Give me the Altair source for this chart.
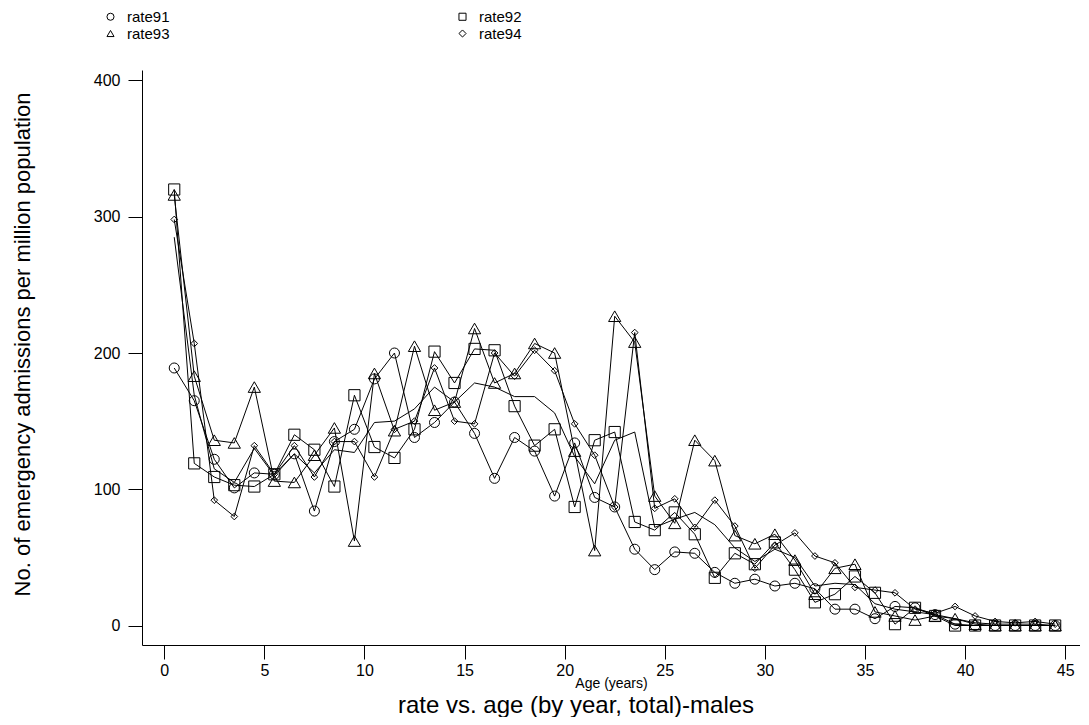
import altair as alt
import pandas as pd

ages = [0.5, 1.5, 2.5, 3.5, 4.5, 5.5, 6.5, 7.5, 8.5, 9.5,
        10.5, 11.5, 12.5, 13.5, 14.5, 15.5, 16.5, 17.5, 18.5, 19.5,
        20.5, 21.5, 22.5, 23.5, 24.5, 25.5, 26.5, 27.5, 28.5, 29.5,
        30.5, 31.5, 32.5, 33.5, 34.5, 35.5, 36.5, 37.5, 38.5, 39.5,
        40.5, 41.5, 42.5, 43.5, 44.5]

rate91 = [189, 165, 122, 101, 112, 111, 126, 84, 135, 144,
          181, 200, 138, 149, 164, 141, 108, 138, 128, 95,
          134, 94, 87, 56, 41, 54, 53, 39, 31, 34,
          29, 31, 27, 12, 12, 5, 14, 13, 8, 1,
          0, 0, 0, 0, 0]

rate92 = [320, 119, 109, 103, 102, 111, 140, 129, 102, 169,
          131, 123, 144, 201, 178, 203, 202, 161, 132, 144,
          87, 136, 142, 76, 70, 83, 67, 35, 53, 45,
          61, 41, 17, 23, 36, 24, 1, 13, 7, 0,
          0, 0, 0, 0, 0]

rate93 = [316, 183, 136, 134, 175, 106, 105, 125, 145, 62,
          185, 143, 205, 158, 164, 218, 178, 185, 207, 200,
          128, 55, 227, 208, 95, 75, 136, 121, 66, 60,
          67, 48, 23, 42, 45, 10, 7, 4, 7, 5,
          1, 0, 0, 0, 0]

rate94 = [298, 207, 92, 80, 132, 111, 132, 109, 135, 135,
          109, 144, 150, 189, 150, 148, 200, 183, 202, 187,
          148, 125, 87, 215, 86, 93, 72, 92, 73, 42,
          59, 68, 51, 46, 28, 26, 24, 12, 9, 14,
          7, 3, 2, 3, 1]

# plain line without markers
plain = [285, 169, 115, 105, 130, 110, 126, 112, 129, 127,
         149, 150, 159, 175, 164, 178, 175, 168, 168, 156,
         124, 104, 136, 142, 72, 78, 83, 74, 57, 47,
         56, 50, 29, 31, 30, 16, 12, 10, 8, 5,
         2, 1, 1, 1, 0]

series_names = ["rate91", "rate92", "rate93", "rate94"]
series_values = [rate91, rate92, rate93, rate94]
series_shapes = ["circle", "square", "triangle-up", "diamond"]
series_sizes = [100, 125, 150, 45]
legend_order = ["rate91", "rate93", "rate92", "rate94"]
x_ticks = [0, 5, 10, 15, 20, 25, 30, 35, 40, 45]
y_ticks = [0, 100, 200, 300, 400]

rows = []
for name, vals in zip(series_names, series_values):
    for a, v in zip(ages, vals):
        rows.append({"age": a, "rate": v, "series": name})
df = pd.DataFrame(rows)
plain_df = pd.DataFrame({"age": ages, "rate": plain})

FONT = "Liberation Sans"

x_enc = alt.X(
    "age:Q",
    scale=alt.Scale(domain=[-1.11, 45.74], nice=False, zero=False),
    axis=alt.Axis(values=x_ticks, title="Age (years)", titleFontSize=14,
                  titlePadding=-2, labelPadding=3, format="d"),
)
y_enc = alt.Y(
    "rate:Q",
    scale=alt.Scale(domain=[-14.3, 407.7], nice=False, zero=False),
    axis=alt.Axis(values=y_ticks, title="No. of emergency admissions per million population",
                  titleFontSize=22, titleAngle=270, titleX=-120, titleY=274,
                  titleBaseline="middle", titleAlign="center", labelPadding=8, format="d"),
)

shape_scale = alt.Scale(domain=series_names, range=series_shapes)

lines = alt.Chart(df).mark_line(color="black", strokeWidth=1).encode(
    x=x_enc, y=y_enc, detail="series:N"
)

plain_line = alt.Chart(plain_df).mark_line(color="black", strokeWidth=1).encode(
    x=x_enc, y=y_enc
)

point_layers = []
for i, (name, sz) in enumerate(zip(series_names, series_sizes)):
    if i == 0:
        legend = alt.Legend(
            title=None, orient="none", legendX=-39, legendY=-61, columns=2,
            columnPadding=285, rowPadding=1, labelFontSize=15, labelFont=FONT,
            labelColor="black", symbolSize=50, labelOffset=9, padding=0,
            symbolStrokeColor="black", symbolStrokeWidth=1, symbolFillColor="white",
            values=legend_order,
        )
    else:
        legend = None
    layer = (
        alt.Chart(df)
        .transform_filter(alt.datum.series == name)
        .mark_point(filled=False, color="black", opacity=1, strokeWidth=1, size=sz)
        .encode(
            x=x_enc,
            y=y_enc,
            shape=alt.Shape("series:N", scale=shape_scale, legend=legend),
        )
    )
    point_layers.append(layer)

chart = (
    alt.layer(lines, plain_line, *point_layers)
    .properties(
        width=938,
        height=575,
        padding={"left": 134, "top": 62, "right": 0, "bottom": 72},
        autosize=alt.AutoSizeParams(type="none"),
        title=alt.TitleParams(
            "rate vs. age (by year, total)-males", orient="bottom", anchor="middle",
            fontSize=24, font=FONT, fontWeight="normal", color="black", dx=-35, offset=4,
        ),
    )
    .configure(background="white")
    .configure_view(stroke=None)
    .configure_axis(
        grid=False, domainColor="black", tickColor="black", labelColor="black",
        titleColor="black", labelFont=FONT, titleFont=FONT, labelFontSize=16,
        tickSize=14, domainWidth=1, tickWidth=1, titleFontWeight="normal",
    )
)

chart.save("out.html", embed_options={"renderer": "svg", "actions": False})
